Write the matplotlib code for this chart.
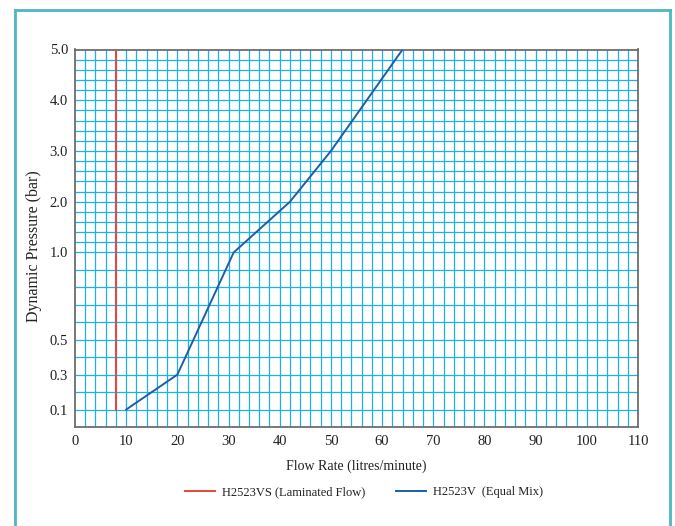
import numpy as np
import matplotlib
matplotlib.use("Agg")
import matplotlib.pyplot as plt
from matplotlib.lines import Line2D

# data
laminated_flow = [8, 8]
laminated_pressure = [0.1, 5.0]

equal_mix_flow = [10, 20, 31, 42, 50, 64]
equal_mix_pressure = [0.1, 0.3, 1.0, 2.0, 3.0, 5.0]

y_tick_values = [0.1, 0.3, 0.5, 1.0, 2.0, 3.0, 4.0, 5.0]
y_tick_labels = ["0.1", "0.3", "0.5", "1.0", "2.0", "3.0", "4.0", "5.0"]
x_tick_values = list(range(0, 111, 10))

GRID_COLOR = "#1eb0ea"
RED = "#e8453c"
BLUE = "#1d5ea8"
FRAME = "#4cb8c2"
TEXT = "#231f20"

plt.rcParams["font.family"] = ["Liberation Serif", "DejaVu Serif"]

# the pressure axis is stretched below 1 bar
K = 3.44

def forward(p):
    p = np.asarray(p, dtype=float)
    return np.where(p <= 1, p * K, K + (p - 1))

def inverse(u):
    u = np.asarray(u, dtype=float)
    return np.where(u <= K, u / K, u - K + 1)


fig = plt.figure(figsize=(6.75, 5.26), dpi=100)
ax = fig.add_axes([75 / 675, 1 - 427 / 526, 563 / 675, 377.5 / 526])

ax.set_yscale("function", functions=(forward, inverse))
ax.set_xlim(0, 110)
ax.set_ylim(0, 5)

ax.set_xticks(x_tick_values)
ax.set_yticks(y_tick_values)
ax.set_yticklabels(y_tick_labels)
ax.tick_params(length=0, labelsize=10.5, labelcolor=TEXT)
ax.tick_params(axis="x", pad=6)
ax.tick_params(axis="y", pad=5)

# graph-paper grid: 2 l/min across, 0.1 bar below 1 bar, 0.2 bar above
grid_x = np.arange(2, 110, 2)
grid_y = list(np.arange(0.1, 1.0, 0.1)) + list(np.arange(1.0, 5.0, 0.2))
for gx in grid_x:
    ax.axvline(gx, color=GRID_COLOR, linewidth=0.9, zorder=1)
for gy in grid_y:
    ax.axhline(gy, color=GRID_COLOR, linewidth=0.9, zorder=1)

for s in ax.spines.values():
    s.set_color("#6d6d6d")
    s.set_linewidth(1.3)

ax.plot(laminated_flow, laminated_pressure, color=RED, linewidth=1.4,
        label="H2523VS (Laminated Flow)", zorder=3)
ax.plot(equal_mix_flow, equal_mix_pressure, color=BLUE, linewidth=1.4,
        label="H2523V  (Equal Mix)", zorder=3)

ax.set_xlabel("Flow Rate (litres/minute)", fontsize=10, color=TEXT, labelpad=8)
ax.set_ylabel("Dynamic Pressure (bar)", fontsize=11.5, color=TEXT)
ax.yaxis.set_label_coords(-0.059, 0.479)

fig.legend(loc="center", bbox_to_anchor=(364 / 675, 1 - 492 / 526), ncol=2,
           frameon=False, fontsize=9, handlelength=2.4, handletextpad=0.6,
           columnspacing=2.4, labelcolor=TEXT)

# teal frame round the panel
fig.add_artist(Line2D([15 / 675, 15 / 675], [0, 1 - 10 / 526], color=FRAME,
                      linewidth=2, transform=fig.transFigure))
fig.add_artist(Line2D([15 / 675, 670 / 675], [1 - 10 / 526, 1 - 10 / 526],
                      color=FRAME, linewidth=2, transform=fig.transFigure))
fig.add_artist(Line2D([670 / 675, 670 / 675], [0, 1 - 10 / 526], color=FRAME,
                      linewidth=2, transform=fig.transFigure))

fig.savefig("out.png", dpi=100)
